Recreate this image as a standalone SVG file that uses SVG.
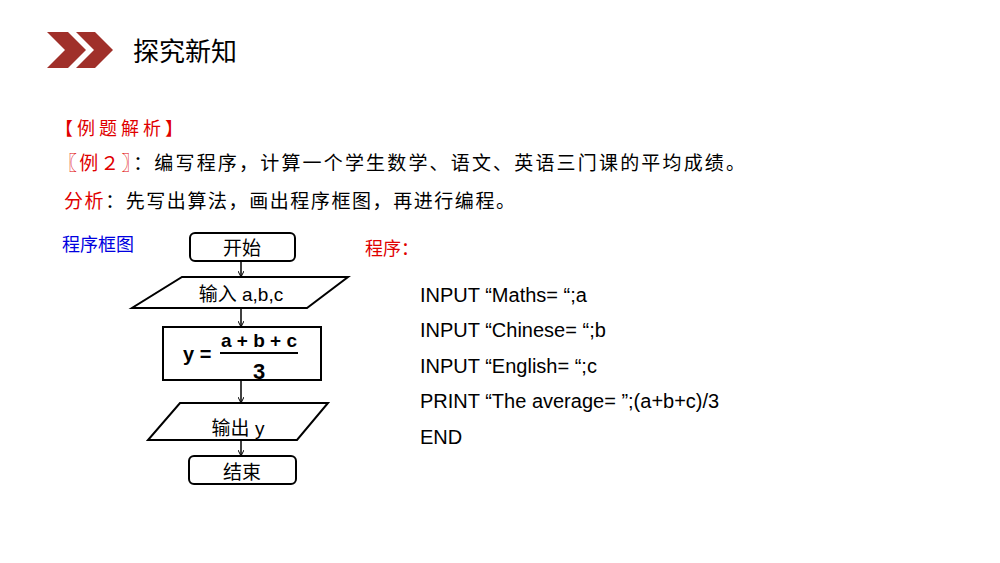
<svg xmlns="http://www.w3.org/2000/svg" width="1000" height="563" viewBox="0 0 1000 563">
<style>
.cn{font-family:"Noto Sans CJK SC","Liberation Sans",sans-serif}
.sh{fill:#fff;stroke:#000;stroke-width:2}
.lbl{font-family:"Liberation Sans","Noto Sans CJK SC",sans-serif;font-size:19px;text-anchor:middle}
.code{font-family:"Liberation Sans",sans-serif;font-size:20px}
.red{fill:#e00000}
</style>
<defs><marker id="a" markerWidth="6" markerHeight="6" refX="5" refY="3" orient="auto" markerUnits="userSpaceOnUse"><path d="M0,0 L6,3 L0,6" fill="none" stroke="#000" stroke-width="1"/></marker></defs>
<rect width="1000" height="563" fill="#fff"/>
<g id="chevrons" fill="#a0302a">
<polygon points="47,32 68,32 86,50 68,68 47,68 65,50"/>
<polygon points="76,32 95,32 113,50 95,68 76,68 94,50"/>
</g>
<text x="133" y="61" class="cn" font-size="26">探究新知</text>
<text x="55" y="135" class="cn red" font-size="18" textLength="128">【例题解析】</text>
<text x="58" y="170" class="cn" font-size="19" textLength="687"><tspan class="red">〖例２〗</tspan>：编写程序，计算一个学生数学、语文、英语三门课的平均成绩。</text>
<text x="64" y="208" class="cn" font-size="19" textLength="451"><tspan class="red">分析</tspan>：先写出算法，画出程序框图，再进行编程。</text>
<text x="62" y="251" class="cn" font-size="18" fill="#0000e0">程序框图</text>
<text x="365" y="255" class="cn red" font-size="18">程序：</text>
<g id="connectors" stroke="#000" stroke-width="1.5" fill="none">
<line x1="241" y1="262" x2="241" y2="276" marker-end="url(#a)"/>
<line x1="241" y1="309" x2="241" y2="326" marker-end="url(#a)"/>
<line x1="241" y1="381" x2="241" y2="402" marker-end="url(#a)"/>
<line x1="241" y1="441" x2="241" y2="455" marker-end="url(#a)"/>
</g>
<g id="start"><rect class="sh" x="190" y="233" width="105" height="28" rx="5"/><text class="lbl" x="242" y="255">开始</text></g>
<g id="input"><polygon class="sh" points="182,277 348,277 307,308 132,308"/><text class="lbl" x="241" y="301">输入 a,b,c</text></g>
<g id="process"><rect class="sh" x="163" y="327" width="158" height="53"/>
<text x="183" y="361" font-family="Liberation Sans,sans-serif" font-weight="bold" font-size="20">y =</text>
<line x1="220" y1="353" x2="298" y2="353" stroke="#000" stroke-width="2"/>
<text x="259" y="347" font-family="Liberation Sans,sans-serif" font-weight="bold" font-size="19" text-anchor="middle">a + b + c</text>
<text x="259" y="379" font-family="Liberation Sans,sans-serif" font-weight="bold" font-size="22" text-anchor="middle">3</text></g>
<g id="output"><polygon class="sh" points="180,403 328,403 297,440 148,440"/><text class="lbl" x="238" y="435">输出 y</text></g>
<g id="end"><rect class="sh" x="189" y="456" width="107" height="28" rx="5"/><text class="lbl" x="242" y="479">结束</text></g>
<g class="code">
<text x="420" y="302">INPUT “Maths= “;a</text>
<text x="420" y="337">INPUT “Chinese= “;b</text>
<text x="420" y="373">INPUT “English= “;c</text>
<text x="420" y="408">PRINT “The average= ”;(a+b+c)/3</text>
<text x="420" y="444">END</text>
</g>
</svg>
